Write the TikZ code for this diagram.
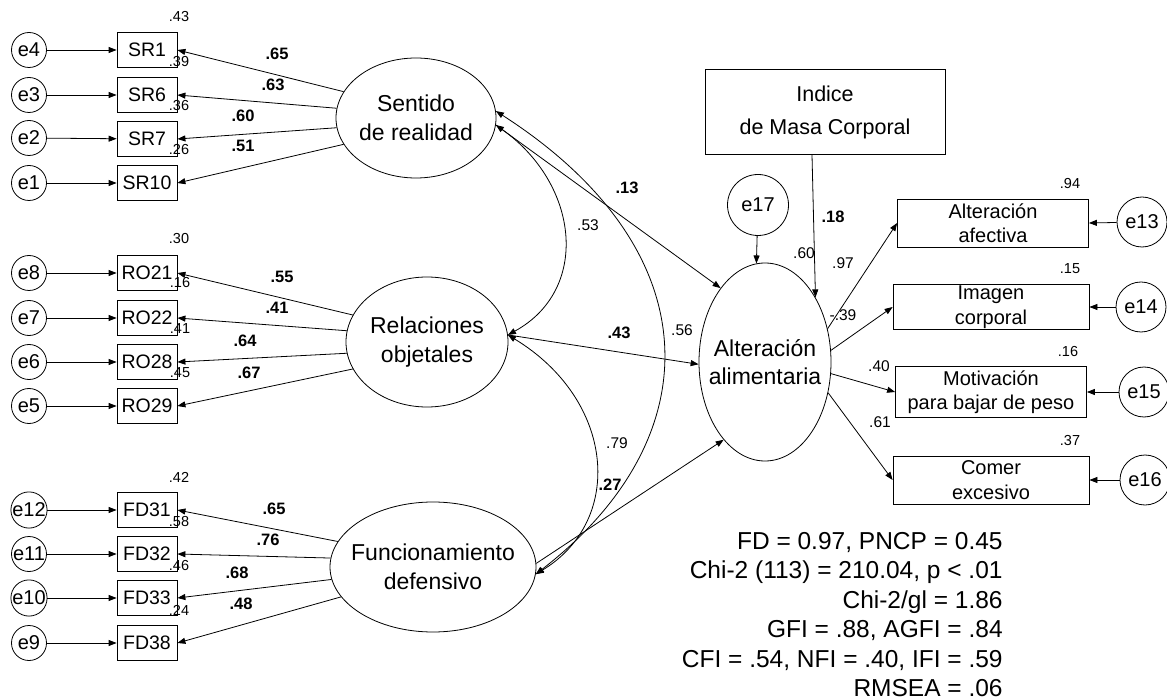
\documentclass[tikz,border=0pt]{standalone}
\usepackage{fontspec}
\setmainfont{Liberation Sans}
\usetikzlibrary{shapes.geometric,arrows.meta}
\newcommand\myfs[2]{\fontsize{#1}{#2}\selectfont}
\begin{document}
\begin{tikzpicture}[x=1pt,y=-1pt,
  line width=0.8pt,
  >={Triangle[length=8pt,width=6pt]},
  err/.style={circle,draw,minimum size=35pt,inner sep=0pt,font=\myfs{20}{22}},
  errb/.style={circle,draw,minimum size=50pt,inner sep=0pt,font=\myfs{20}{22}},
  ind/.style={rectangle,draw,minimum width=60pt,minimum height=35pt,inner sep=0pt,font=\myfs{19.5}{21}},
  lat/.style={ellipse,draw,inner sep=0pt},
  lattext/.style={align=center,font=\myfs{23}{28.5},inner sep=0pt},
  obs/.style={rectangle,draw,inner sep=0pt,align=center,font=\myfs{20}{24.5}},
  rsq/.style={font=\myfs{14.5}{16},inner sep=0pt},
  nco/.style={font=\myfs{15.5}{17},inner sep=0pt},
  coef/.style={font=\bfseries\myfs{16.5}{18},inner sep=0pt},
  fit/.style={align=right,font=\myfs{24.5}{29.4},inner sep=0pt},
]
\useasboundingbox (0,0) rectangle (1167,700);

% ---- left error terms
\node[err] (e4) at (29,50) {e4};
\node[err] (e3) at (29,95) {e3};
\node[err] (e2) at (29,138) {e2};
\node[err] (e1) at (29,183) {e1};
\node[err] (e8) at (29,273) {e8};
\node[err] (e7) at (29,318) {e7};
\node[err] (e6) at (29,362) {e6};
\node[err] (e5) at (29,406) {e5};
\node[err] (e12) at (29,510) {e12};
\node[err] (e11) at (29,554) {e11};
\node[err] (e10) at (29,598) {e10};
\node[err] (e9) at (29,643) {e9};

% ---- indicators
\node[ind] (SR1) at (147,50) {SR1};
\node[ind] (SR6) at (147,95) {SR6};
\node[ind] (SR7) at (147,139) {SR7};
\node[ind] (SR10) at (147,183) {SR10};
\node[ind] (RO21) at (147,273) {RO21};
\node[ind] (RO22) at (147,318) {RO22};
\node[ind] (RO28) at (147,362) {RO28};
\node[ind] (RO29) at (147,406) {RO29};
\node[ind] (FD31) at (147,510) {FD31};
\node[ind] (FD32) at (147,554) {FD32};
\node[ind] (FD33) at (147,598) {FD33};
\node[ind] (FD38) at (147,643) {FD38};

\foreach \e/\b in {e4/SR1,e3/SR6,e2/SR7,e1/SR10,e8/RO21,e7/RO22,e6/RO28,e5/RO29,e12/FD31,e11/FD32,e10/FD33,e9/FD38}
  \draw[->] (\e) -- (\b);

% ---- R2 of indicators
\node[rsq] (r1) at (179,17) {.43};
\node[rsq] (r2) at (179,62) {.39};
\node[rsq] (r3) at (179,106) {.36};
\node[rsq] (r4) at (179,150) {.26};
\node[rsq] (r5) at (179,239) {.30};
\node[rsq] (r6) at (180,283) {.16};
\node[rsq] (r7) at (180,329) {.41};
\node[rsq] (r8) at (180,373) {.45};
\node[rsq] (r9) at (179,477) {.42};
\node[rsq] (r10) at (179,522) {.58};
\node[rsq] (r11) at (179,566) {.46};
\node[rsq] (r12) at (179,610) {.24};

% ---- latent variables
\node[lat,minimum width=160pt,minimum height=120pt] (sr) at (416,118) {};
\node[lattext] (srt) at (sr) {Sentido\\de realidad};
\node[lat,minimum width=162pt,minimum height=130pt] (ro) at (427,342) {};
\node[lattext] (rot) at (ro) {Relaciones\\objetales};
\node[lat,minimum width=206pt,minimum height=130pt] (fd) at (433,567) {};
\node[lattext] (fdt) at (fd) {Funcionamiento\\defensivo};
\node[lat,minimum width=132pt,minimum height=198pt] (alt) at (765,362) {};
\node[lattext] (altt) at (alt) {Alteración\\alimentaria};

% ---- loadings
\draw[->] (sr.160) -- (SR1.east);
\draw[->] (sr.173) -- (SR6.east);
\draw[->] (sr.187) -- (SR7.east);
\draw[->] (sr.200) -- (SR10.east);
\draw[->] (ro.160) -- (RO21.east);
\draw[->] (ro.172) -- (RO22.east);
\draw[->] (ro.188) -- (RO28.east);
\draw[->] (ro.200) -- (RO29.east);
\draw[->] (fd.165) -- (FD31.east);
\draw[->] (fd.175) -- (FD32.east);
\draw[->] (fd.187) -- (FD33.east);
\draw[->] (fd.198) -- (FD38.east);

\node[coef] (l1) at (277,54) {.65};
\node[coef] (l2) at (273,85) {.63};
\node[coef] (l3) at (243,116) {.60};
\node[coef] (l4) at (243,146) {.51};
\node[coef] (l5) at (282,277) {.55};
\node[coef] (l6) at (277,308) {.41};
\node[coef] (l7) at (245,341) {.64};
\node[coef] (l8) at (249,373) {.67};
\node[coef] (l9) at (274,509) {.65};
\node[coef] (l10) at (268,540) {.76};
\node[coef] (l11) at (237,573) {.68};
\node[coef] (l12) at (241,604) {.48};

% ---- covariances
\draw[<->] (sr.-5) .. controls (580,185) and (590,290) .. (ro.5);
\draw[<->] (sr.5) .. controls (712,250) and (712,438) .. (fd.-4);
\draw[<->] (ro.5) .. controls (615,400) and (625,520) .. (fd.-4);
\node[nco] (c1) at (588,225) {.53};
\node[nco] (c2) at (682,330) {.56};
\node[nco] (c3) at (617,443) {.79};

% ---- structural paths
\draw[->] (sr.-5) -- (alt.121);
\draw[->] (ro.5) -- (alt.182);
\draw[->] (fd.2) -- (alt.242);
\node[coef] (s1) at (627,188) {.13};
\node[coef] (s2) at (619,333) {.43};
\node[coef] (s3) at (610,485) {.27};

% ---- IMC and e17
\node[rectangle,draw,minimum width=240pt,minimum height=85pt,align=center,font=\myfs{21.5}{33}] (imc) at (825,112) {Indice\\de Masa Corporal};
\draw[->] ([xshift=-13pt]imc.south) -- (alt.52);
\node[coef] (s4) at (833,217) {.18};
\node[circle,draw,minimum size=61pt,inner sep=0pt,font=\myfs{20}{22}] (e17) at (758,205) {e17};
\draw[->] (e17) -- (alt.95);
\node[nco] (ra) at (804,253) {.60};

% ---- right indicators
\node[obs,minimum width=191pt,minimum height=48pt] (afect) at (993,223) {Alteración\\afectiva};
\node[obs,minimum width=196pt,minimum height=45pt] (imag) at (991,307) {Imagen\\corporal};
\node[obs,minimum width=191pt,minimum height=51pt] (motiv) at (991,392) {Motivación\\para bajar de peso};
\node[obs,minimum width=196pt,minimum height=48pt] (comer) at (991,480) {Comer\\excesivo};

\draw[->] (alt.28) -- (afect.west);
\draw[->] (alt.10) -- (imag.west);
\draw[->] (alt.-10) -- (motiv.west);
\draw[->] (alt.-26) -- (comer.west);
\node[nco] (k1) at (843,263) {.97};
\node[nco] (k2) at (843,315) {-.39};
\node[nco] (k3) at (879,366) {.40};
\node[nco] (k4) at (880,422) {.61};

\node[rsq] (q1) at (1070,184) {.94};
\node[rsq] (q2) at (1070,269) {.15};
\node[rsq] (q3) at (1068,352) {.16};
\node[rsq] (q4) at (1070,441) {.37};

\node[errb] (e13) at (1142,222) {e13};
\node[errb] (e14) at (1141,307) {e14};
\node[errb] (e15) at (1144,392) {e15};
\node[errb] (e16) at (1145,480) {e16};
\draw[->] (e13) -- (afect.east);
\draw[->] (e14) -- (imag.east);
\draw[->] (e15) -- (motiv.east);
\draw[->] (e16) -- (comer.east);

% ---- fit statistics
\node[fit,anchor=east] (fitstats) at (1003,614.5) {FD = 0.97, PNCP = 0.45\\Chi-2 (113) = 210.04, p < .01\\Chi-2/gl = 1.86\\GFI = .88, AGFI = .84\\CFI = .54, NFI = .40, IFI = .59\\RMSEA = .06};
\end{tikzpicture}
\end{document}
